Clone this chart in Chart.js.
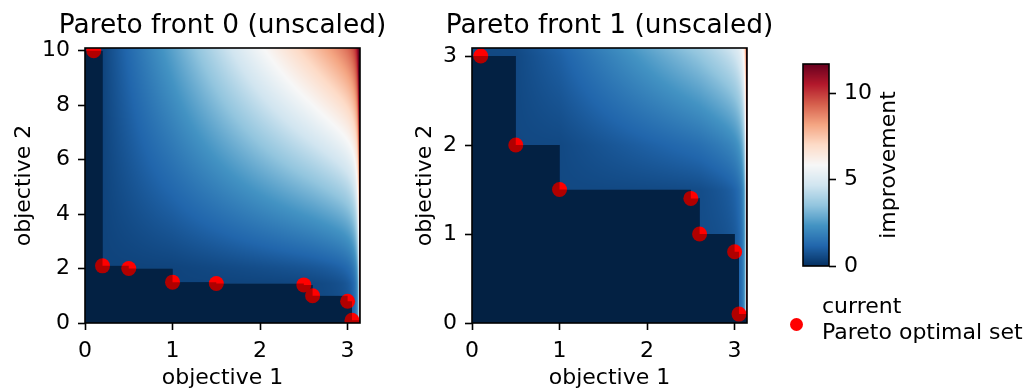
<!DOCTYPE html>
<html>
<head>
<meta charset="utf-8">
<script src="https://cdn.jsdelivr.net/npm/chart.js@4.4.0/dist/chart.umd.min.js"></script>
<style>
  html, body { margin: 0; padding: 0; background: #fff; }
  #wrap { position: relative; width: 1034px; height: 392px; overflow: hidden; font-family: 'DejaVu Sans', sans-serif; }
  .panel { position: absolute; top: 0; }
  #legend { position: absolute; left: 822px; top: 293px; font-size: 22px; line-height: 26.4px; color: #000; white-space: nowrap; }
  #legend-dot { position: absolute; left: 789.5px; top: 317.5px; width: 13px; height: 13px; border-radius: 50%; background: #ff0000; }
</style>
</head>
<body>
<div id="wrap">
  <canvas id="front0" class="panel" style="left:0" width="400" height="392"></canvas>
  <canvas id="front1" class="panel" style="left:400px" width="380" height="392"></canvas>
  <canvas id="cbar" class="panel" style="left:780px" width="140" height="392"></canvas>
  <span id="legend-dot"></span>
  <div id="legend">current<br>Pareto optimal set</div>
</div>
<script>
// ── Data ─────────────────────────────────────────────────────────────────────
const X_MAX = Math.PI;
const Y_MAX0 = 10.1;
const Y_MAX1 = 3.09;
const V_MAX = 11.7;

const xTicks = [0, 1, 2, 3];
const yTicks0 = [0, 2, 4, 6, 8, 10];
const yTicks1 = [0, 1, 2, 3];
const cbarTicks = [0, 5, 10];

// Pareto optimal points of each front (objective 1, objective 2)
const front0X = [0.1, 0.2, 0.5, 1.0, 1.5, 2.5, 2.6, 3.0, 3.05];
const front0Y = [10, 2.1, 2.0, 1.5, 1.45, 1.4, 1.0, 0.8, 0.1];
const front1X = [0.1, 0.5, 1.0, 2.5, 2.6, 3.0, 3.05];
const front1Y = [3.0, 2.0, 1.5, 1.4, 1.0, 0.8, 0.1];

// improvement field settings (gain per unit of new area, floor just off the front)
const GAIN0 = 0.35;
const GAIN1 = 1.0;
const FLOOR0 = 0.4;
const FLOOR1 = 0.5;
const EDGE = 0.058;

// RdBu_r colour map nodes
const RDBU_R = ['#053061', '#2166ac', '#4393c3', '#92c5de', '#d1e5f0', '#f7f7f7',
                '#fddbc7', '#f4a582', '#d6604d', '#b2182b', '#67001f'];

const FONT = "'DejaVu Sans', sans-serif";
Chart.defaults.font.family = FONT;
Chart.defaults.color = '#000';

// ── Helpers ──────────────────────────────────────────────────────────────────
const cmapRGB = RDBU_R.map(h => [1, 3, 5].map(i => parseInt(h.slice(i, i + 2), 16)));

function cmap(t) {
  t = Math.min(1, Math.max(0, t)) * (cmapRGB.length - 1);
  const i = Math.min(cmapRGB.length - 2, Math.floor(t));
  const f = t - i;
  return cmapRGB[i].map((c, k) => Math.round(c + (cmapRGB[i + 1][k] - c) * f));
}

// right edge of each step of the front's staircase
function stepEdges(fx) {
  return fx.map((_, i) => i + 1 < fx.length ? fx[i + 1] : X_MAX);
}

function improvement(panel, x, y) {
  const { fx, fy, edges, gain, floor } = panel;
  let covered = 0, left = 0, height = 0;
  for (let i = 0; i < fx.length; i++) {
    const r = edges[i];
    const w = Math.min(r, x) - left;
    if (w > 0) covered += w * Math.min(fy[i], y);
    if (!height && x <= r) height = fy[i];
    left = r;
  }
  if (y <= height) return 0;
  return floor + gain * (x * y - covered) + EDGE / Math.max(X_MAX - x, 0.002);
}

function drawFrame(chart) {
  const { ctx, chartArea: a } = chart;
  ctx.save();
  ctx.strokeStyle = '#000';
  ctx.lineWidth = 1.6;
  ctx.strokeRect(a.left, a.top, a.right - a.left, a.bottom - a.top);
  ctx.restore();
}

// ── Heat map + dominated staircase ───────────────────────────────────────────
function makeHeatmap(panel, title) {
  return {
    id: 'heatmap',
    beforeDatasetsDraw(chart) {
      const { ctx, chartArea: a, scales: { x, y } } = chart;
      const w = Math.round(a.right - a.left), h = Math.round(a.bottom - a.top);
      const off = document.createElement('canvas');
      off.width = w; off.height = h;
      const octx = off.getContext('2d');
      const img = octx.createImageData(w, h);
      for (let j = 0; j < h; j++) {
        const vy = y.getValueForPixel(a.top + j + 0.5);
        for (let i = 0; i < w; i++) {
          const vx = x.getValueForPixel(a.left + i + 0.5);
          const c = cmap(improvement(panel, vx, vy) / V_MAX);
          const p = (j * w + i) * 4;
          img.data[p] = c[0]; img.data[p + 1] = c[1]; img.data[p + 2] = c[2]; img.data[p + 3] = 255;
        }
      }
      octx.putImageData(img, 0, 0);
      ctx.drawImage(off, a.left, a.top);
    },
    afterDatasetsDraw(chart) {
      // shade the staircase on top of the points
      const { ctx, chartArea: a, scales: { x, y } } = chart;
      ctx.save();
      ctx.beginPath();
      ctx.rect(a.left, a.top, a.right - a.left, a.bottom - a.top);
      ctx.clip();
      ctx.beginPath();
      panel.fy.forEach((v, i) => {
        const x0 = x.getPixelForValue(0), x1 = x.getPixelForValue(panel.edges[i]);
        const y0 = y.getPixelForValue(0), y1 = y.getPixelForValue(v);
        ctx.rect(x0, y1, x1 - x0, y0 - y1);
      });
      ctx.fillStyle = 'rgba(0,0,0,0.31)';
      ctx.fill();
      ctx.restore();
    },
    afterDraw(chart) {
      drawFrame(chart);
      const { ctx, chartArea: a } = chart;
      ctx.save();
      ctx.font = `26.4px ${FONT}`;
      ctx.fillStyle = '#000';
      ctx.textAlign = 'center';
      ctx.textBaseline = 'alphabetic';
      ctx.fillText(title, (a.left + a.right) / 2, 33);
      ctx.restore();
    },
  };
}

// ── Panels ───────────────────────────────────────────────────────────────────
function axisOpts(extra) {
  return Object.assign({
    type: 'linear',
    grid: { drawOnChartArea: false, drawTicks: true, tickLength: 7, tickWidth: 1.6, tickColor: '#000' },
    border: { display: false },
  }, extra);
}

function makePanel(id, panel, title, yMax, yTicks, yWidth, rightPad, yTitlePad) {
  new Chart(document.getElementById(id), {
    type: 'scatter',
    data: {
      datasets: [{
        data: panel.fx.map((v, i) => ({ x: v, y: panel.fy[i] })),
        backgroundColor: '#ff0000',
        pointRadius: 7.5,
        pointHoverRadius: 7.5,
        pointBorderWidth: 0,
        borderWidth: 0,
        clip: 0,
      }]
    },
    options: {
      responsive: false,
      animation: false,
      events: [],
      layout: { padding: { left: 0, top: 48, right: rightPad, bottom: 0 } },
      plugins: { legend: { display: false }, tooltip: { enabled: false } },
      scales: {
        x: axisOpts({
          min: 0, max: X_MAX,
          afterBuildTicks: s => { s.ticks = xTicks.map(v => ({ value: v })); },
          afterFit: s => { s.height = 69; },
          ticks: { font: { size: 22 }, color: '#000', autoSkip: false, maxRotation: 0, padding: 8 },
          title: { display: true, text: 'objective 1', color: '#000', font: { size: 22 }, padding: { top: 0, bottom: 1 } },
        }),
        y: axisOpts({
          min: 0, max: yMax,
          afterBuildTicks: s => { s.ticks = yTicks.map(v => ({ value: v })); },
          afterFit: s => { s.width = yWidth; },
          ticks: { font: { size: 22 }, color: '#000', autoSkip: false, padding: 8 },
          title: { display: true, text: 'objective 2', color: '#000', font: { size: 22 }, padding: { top: yTitlePad, bottom: 0 } },
        }),
      }
    },
    plugins: [makeHeatmap(panel, title)]
  });
}

const panel0 = { fx: front0X, fy: front0Y, edges: stepEdges(front0X), gain: GAIN0, floor: FLOOR0 };
const panel1 = { fx: front1X, fy: front1Y, edges: stepEdges(front1X), gain: GAIN1, floor: FLOOR1 };

makePanel('front0', panel0, 'Pareto front 0 (unscaled)', Y_MAX0, yTicks0, 85, 40, 11);
makePanel('front1', panel1, 'Pareto front 1 (unscaled)', Y_MAX1, yTicks1, 72, 33, 12);

// ── Colour bar ───────────────────────────────────────────────────────────────
const colorbarPlugin = {
  id: 'colorbar',
  beforeDatasetsDraw(chart) {
    const { ctx, chartArea: a, scales: { y } } = chart;
    for (let j = a.top; j < a.bottom; j++) {
      const c = cmap(y.getValueForPixel(j + 0.5) / V_MAX);
      ctx.fillStyle = `rgb(${c[0]},${c[1]},${c[2]})`;
      ctx.fillRect(a.left, j, a.right - a.left, 1);
    }
  },
  afterDraw(chart) {
    drawFrame(chart);
    const { ctx, chartArea: a } = chart;
    ctx.save();
    ctx.translate(109, (a.top + a.bottom) / 2);
    ctx.rotate(-Math.PI / 2);
    ctx.font = `22px ${FONT}`;
    ctx.fillStyle = '#000';
    ctx.textAlign = 'center';
    ctx.textBaseline = 'middle';
    ctx.fillText('improvement', 0, 0);
    ctx.restore();
  }
};

new Chart(document.getElementById('cbar'), {
  type: 'scatter',
  data: { datasets: [] },
  options: {
    responsive: false,
    animation: false,
    events: [],
    layout: { padding: { left: 23, top: 64, right: 0, bottom: 126 } },
    plugins: { legend: { display: false }, tooltip: { enabled: false } },
    scales: {
      x: { display: false, min: 0, max: 1 },
      y: axisOpts({
        position: 'right', min: 0, max: V_MAX,
        afterBuildTicks: s => { s.ticks = cbarTicks.map(v => ({ value: v })); },
        afterFit: s => { s.width = 91; },
        ticks: { font: { size: 22 }, color: '#000', autoSkip: false, padding: 8 },
      }),
    }
  },
  plugins: [colorbarPlugin]
});
</script>
</body>
</html>
